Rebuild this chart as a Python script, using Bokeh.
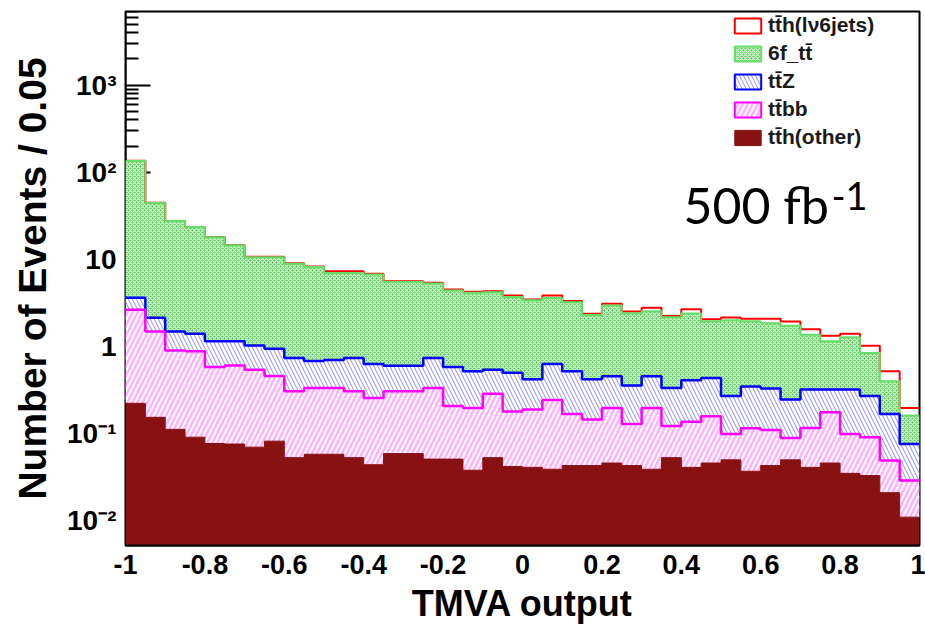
import numpy as np
from bokeh.plotting import figure
from bokeh.models import Label, Legend, LegendItem, FixedTicker, Range1d, LogAxis
from bokeh.embed import file_html
from bokeh.resources import INLINE

# ---------------- data (events per 0.05 bin, 40 bins from -1 to 1) ----------------
x_low = -1.0
bin_width = 0.05

tth_other = [0.223, 0.154, 0.112, 0.091, 0.077, 0.076, 0.070, 0.082, 0.053, 0.058,
             0.058, 0.053, 0.044, 0.059, 0.059, 0.051, 0.051, 0.038, 0.053, 0.042,
             0.041, 0.039, 0.043, 0.043, 0.046, 0.043, 0.039, 0.053, 0.041, 0.046,
             0.050, 0.037, 0.043, 0.050, 0.041, 0.046, 0.035, 0.033, 0.021, 0.011]

ttbb = [2.417, 1.336, 0.788, 0.789, 0.503, 0.529, 0.470, 0.378, 0.253, 0.277,
        0.277, 0.253, 0.213, 0.247, 0.247, 0.284, 0.157, 0.159, 0.233, 0.138,
        0.148, 0.205, 0.125, 0.102, 0.151, 0.086, 0.158, 0.069, 0.096, 0.112,
        0.049, 0.078, 0.067, 0.039, 0.075, 0.130, 0.064, 0.058, 0.028, 0.018]

ttz = [0.99, 0.65, 0.59, 0.52, 0.57, 0.545, 0.49, 0.48, 0.434, 0.345,
       0.365, 0.434, 0.373, 0.294, 0.294, 0.405, 0.372, 0.323, 0.254, 0.32,
       0.231, 0.386, 0.352, 0.275, 0.259, 0.227, 0.259, 0.213, 0.273, 0.278,
       0.171, 0.232, 0.22, 0.157, 0.204, 0.144, 0.221, 0.179, 0.119, 0.047]

sixf_tt = [131.4, 42.3, 26.0, 22.1, 16.85, 13.35, 9.57, 9.66, 8.16, 7.52,
           6.30, 6.26, 6.07, 4.90, 4.90, 4.56, 3.82, 3.62, 3.66, 3.20,
           2.98, 2.97, 2.71, 1.88, 2.49, 2.06, 2.09, 1.83, 1.99, 1.51,
           1.73, 1.60, 1.52, 1.49, 1.04, 0.83, 0.96, 0.57, 0.232, 0.085]

tth_lv6jets = [0.2, 0.1, 0.1, 0.1, 0.1, 0.1, 0.1, 0.1, 0.1, 0.1,
               0.3, 0.3, 0.15, 0.1, 0.1, 0.1, 0.1, 0.1, 0.1, 0.16,
               0.07, 0.26, 0.09, 0.08, 0.15, 0.10, 0.23, 0.08, 0.28, 0.11,
               0.15, 0.13, 0.23, 0.20, 0.22, 0.18, 0.12, 0.18, 0.12, 0.036]

legend_labels = ["tt\u0304h(l\u03bd6jets)", "6f_tt\u0304", "tt\u0304Z", "tt\u0304bb", "tt\u0304h(other)"]
x_ticks = [-1, -0.8, -0.6, -0.4, -0.2, 0, 0.2, 0.4, 0.6, 0.8, 1]
x_tick_labels = ["-1", "-0.8", "-0.6", "-0.4", "-0.2", "0", "0.2", "0.4", "0.6", "0.8", "1"]
y_major = [0.01, 0.1, 1.0, 10.0, 100.0, 1000.0]
y_tick_labels = ["10\u207b\u00b2", "10\u207b\u00b9", "1", "10", "10\u00b2", "10\u00b3"]

# ---------------- derived stacking ----------------
n = len(tth_other)
edges = x_low + bin_width * np.arange(n + 1)
c1 = np.array(tth_other)
c2 = c1 + np.array(ttbb)
c3 = c2 + np.array(ttz)
c4 = c3 + np.array(sixf_tt)
c5 = c4 + np.array(tth_lv6jets)
floor = np.full(n + 1, 1e-4)


def st(c):
    return np.append(c, c[-1])


BOLD = "Liberation Sans"

GREEN = dict(fill_color="#5fd05f", hatch_pattern="diagonal_cross", hatch_color="white",
             hatch_alpha=0.75, hatch_scale=4, hatch_weight=1.2)
BLUE = dict(fill_color="white", hatch_pattern="left_diagonal_line", hatch_color="#a3a3f5",
            hatch_scale=8, hatch_weight=1.2)
MAG = dict(fill_color="white", hatch_pattern="right_diagonal_line", hatch_color="#ffb3ff",
           hatch_scale=10, hatch_weight=2.6)
DARK = dict(fill_color="#881111")

p = figure(width=925, height=626, x_range=Range1d(-1, 1), y_range=Range1d(0.0052, 7000),
           y_axis_type="log", output_backend="svg", toolbar_location=None,
           min_border_left=125, min_border_right=6, min_border_top=11, min_border_bottom=81)
p.xgrid.visible = False
p.ygrid.visible = False
p.outline_line_color = "black"
p.outline_line_width = 2
p.background_fill_color = "white"
p.border_fill_color = "white"

# areas
p.varea_step(x=edges, y1=st(c3), y2=st(c4), step_mode="after", **GREEN)
p.varea_step(x=edges, y1=st(c2), y2=st(c3), step_mode="after", **BLUE)
p.varea_step(x=edges, y1=st(c1), y2=st(c2), step_mode="after", **MAG)
p.varea_step(x=edges, y1=floor, y2=st(c1), step_mode="after", **DARK)

# outlines
p.step(x=edges, y=st(c5), mode="after", line_color="#ff0000", line_width=2)
p.step(x=edges, y=st(c4), mode="after", line_color="#66dd66", line_width=2)
p.step(x=edges, y=st(c3), mode="after", line_color="#0000ff", line_width=2.5)
p.step(x=edges, y=st(c2), mode="after", line_color="#ff00ff", line_width=2.5)
p.step(x=edges, y=st(c1), mode="after", line_color="#881111", line_width=1)

# legend proxies (hidden)
lx = edges[:1]
rx = edges[1:2]
prox = [
    p.quad(left=lx, right=rx, bottom=c4[:1], top=c5[:1], fill_color="white", line_color="#ff0000", line_width=2, visible=False),
    p.quad(left=lx, right=rx, bottom=c3[:1], top=c4[:1], line_color="#66dd66", line_width=2, visible=False, **GREEN),
    p.quad(left=lx, right=rx, bottom=c2[:1], top=c3[:1], line_color="#0000ff", line_width=2, visible=False, **BLUE),
    p.quad(left=lx, right=rx, bottom=c1[:1], top=c2[:1], line_color="#ff00ff", line_width=2, visible=False, **MAG),
    p.quad(left=lx, right=rx, bottom=floor[:1], top=c1[:1], line_color="#881111", line_width=1, visible=False, **DARK),
]
legend = Legend(items=[LegendItem(label=l, renderers=[r]) for l, r in zip(legend_labels, prox)],
                location=(606, 396), glyph_width=33, glyph_height=19, label_height=19, spacing=4,
                padding=0, margin=0, label_standoff=4, border_line_alpha=0, background_fill_alpha=0,
                label_text_font=BOLD, label_text_font_style="bold", label_text_font_size="21px",
                label_text_color="#1a1a1a")
p.add_layout(legend)

# x axis
p.xaxis.ticker = FixedTicker(ticks=x_ticks, minor_ticks=[])
p.xaxis.major_label_overrides = {t: s for t, s in zip(x_ticks, x_tick_labels)}
p.xaxis.major_tick_in = 0
p.xaxis.major_tick_out = 0
p.xaxis.minor_tick_in = 0
p.xaxis.minor_tick_out = 0
p.xaxis.axis_line_color = "black"
p.xaxis.axis_line_width = 2
p.xaxis.major_label_text_font = BOLD
p.xaxis.major_label_text_font_style = "bold"
p.xaxis.major_label_text_font_size = "27px"
p.xaxis.major_label_text_color = "black"
p.xaxis.major_label_standoff = 9
p.xaxis.axis_label = "TMVA output"
p.xaxis.axis_label_text_font = BOLD
p.xaxis.axis_label_text_font_style = "bold"
p.xaxis.axis_label_text_font_size = "36px"
p.xaxis.axis_label_text_color = "black"
p.xaxis.axis_label_standoff = 6

# y axis A: inward ticks only, drawn under the histogram
minor = [m * 10.0 ** k for k in range(-3, 4) for m in range(2, 10)]
p.yaxis.ticker = FixedTicker(ticks=y_major, minor_ticks=minor)
p.yaxis.major_label_overrides = {v: "" for v in y_major}
p.yaxis.major_label_standoff = 0
p.yaxis.major_tick_in = 25
p.yaxis.major_tick_out = 0
p.yaxis.minor_tick_in = 13
p.yaxis.minor_tick_out = 0
p.yaxis.major_tick_line_width = 2
p.yaxis.minor_tick_line_width = 2
p.yaxis.axis_line_width = 2
p.yaxis.level = "underlay"

# y axis B: tick labels and title
axB = LogAxis(ticker=FixedTicker(ticks=y_major, minor_ticks=[]),
              major_label_overrides={v: s for v, s in zip(y_major, y_tick_labels)},
              major_tick_in=0, major_tick_out=0, minor_tick_in=0, minor_tick_out=0,
              axis_line_alpha=0, major_label_standoff=9,
              major_label_text_font=BOLD, major_label_text_font_style="bold",
              major_label_text_font_size="28px", major_label_text_color="black",
              axis_label="Number of Events / 0.05", axis_label_text_font=BOLD,
              axis_label_text_font_style="bold", axis_label_text_font_size="39px",
              axis_label_text_color="black", axis_label_standoff=10)
p.add_layout(axB, "left")

# luminosity annotation
p.add_layout(Label(x=558, y=311, x_units="screen", y_units="screen", text="500 fb",
                   text_font="Lato", text_font_size="50px", text_color="black"))
p.add_layout(Label(x=706, y=336, x_units="screen", y_units="screen", text="-1",
                   text_font="Lato", text_font_size="38px", text_color="black"))

open("out.html", "w").write(file_html(p, INLINE))
